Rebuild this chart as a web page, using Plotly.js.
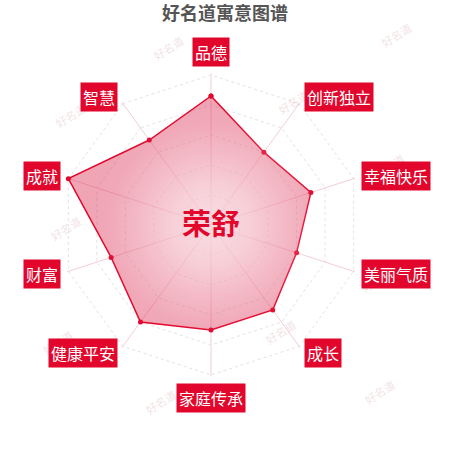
<!DOCTYPE html>
<html>
<head>
<meta charset="utf-8">
<script src="https://cdn.plot.ly/plotly-3.0.1.min.js"></script>
<style>
  html, body { margin: 0; padding: 0; background: #fff; }
  #chart { width: 450px; height: 450px; }
</style>
</head>
<body>
<div id="chart"></div>
<script>
// radar data, clockwise from the top
const categories = ["品德", "创新独立", "幸福快乐", "美丽气质", "成长", "家庭传承", "健康平安", "财富", "成就", "智慧"];
const scores = [0.86, 0.60, 0.70, 0.60, 0.70, 0.70, 0.80, 0.70, 1.00, 0.70];
const personName = "荣舒";
const chartTitle = "好名道寓意图谱";
const watermarkText = "好名道";

const W = 450, H = 450;
const RED = "#e2062c";
const RMAX = 1.01;               // a little past 1 so the outer dotted ring is drawn
const ringPx = 150;              // pixel radius of the value-1 ring
const centerPx = [211, 225];

const domR = ringPx * RMAX;
const domain = {
  x: [(centerPx[0] - domR) / W, (centerPx[0] + domR) / W],
  y: [1 - (centerPx[1] + domR) / H, 1 - (centerPx[1] - domR) / H]
};

// close the outline
const thetaLoop = categories.concat(categories[0]);
const rLoop = scores.concat(scores[0]);

const trace = {
  type: "scatterpolar",
  r: rLoop,
  theta: thetaLoop,
  mode: "lines+markers",
  fill: "toself",
  fillcolor: "rgba(222,55,92,0.45)",
  line: { color: RED, width: 1.5 },
  marker: { color: RED, size: 5 },
  hoverinfo: "skip"
};

// category labels in red boxes just outside the outer ring
const labelGap = 8;
const labelAnns = categories.map((name, i) => {
  const a = (90 - i * 360 / categories.length) * Math.PI / 180;
  const c = Math.cos(a), s = Math.sin(a);
  const px = centerPx[0] + (ringPx + labelGap) * c;
  const py = centerPx[1] - (ringPx + labelGap) * s;
  return {
    xref: "paper", yref: "paper",
    x: px / W, y: 1 - py / H,
    text: name,
    showarrow: false,
    xanchor: c > 0.1 ? "left" : (c < -0.1 ? "right" : "center"),
    yanchor: Math.abs(s) > 0.99 ? (s > 0 ? "bottom" : "top") : "middle",
    bgcolor: RED,
    borderpad: 2,
    font: { family: "Noto Sans CJK SC", size: 16, color: "#fff" }
  };
});

// faint watermarks scattered over the page (pixel positions)
const watermarkSpots = [[417, 17], [168, 30], [293, 84], [50, 97], [410, 148], [45, 228],
  [397, 280], [280, 350], [37, 360], [400, 410], [160, 420]];
const watermarkAnns = watermarkSpots.map(([x, y]) => ({
  xref: "paper", yref: "paper",
  x: x / W, y: 1 - y / H,
  text: watermarkText,
  showarrow: false,
  textangle: -32,
  font: { family: "Noto Sans CJK SC", size: 11, color: "rgba(215,170,178,0.35)" }
}));

const centerAnn = {
  xref: "paper", yref: "paper",
  x: centerPx[0] / W, y: 1 - (centerPx[1] - 3) / H,
  text: "<b>" + personName + "</b>",
  showarrow: false,
  font: { family: "Noto Sans CJK SC", size: 29, color: RED }
};

// white radial glow on top, lightens the middle of the filled area
const glow = "data:image/svg+xml;utf8," + encodeURIComponent(
  '<svg xmlns="http://www.w3.org/2000/svg" width="300" height="300">' +
  '<defs><radialGradient id="g" cx="50%" cy="50%" r="50%">' +
  '<stop offset="0" stop-color="#fff" stop-opacity="0.62"/>' +
  '<stop offset="0.25" stop-color="#fff" stop-opacity="0.48"/>' +
  '<stop offset="0.5" stop-color="#fff" stop-opacity="0.22"/>' +
  '<stop offset="0.68" stop-color="#fff" stop-opacity="0.04"/>' +
  '<stop offset="0.8" stop-color="#fff" stop-opacity="0"/>' +
  '</radialGradient></defs>' +
  '<rect width="300" height="300" fill="url(#g)"/></svg>');

const layout = {
  width: W, height: H,
  margin: { l: 0, r: 0, t: 0, b: 0 },
  paper_bgcolor: "#fff",
  showlegend: false,
  title: {
    text: "<b>" + chartTitle + "</b>",
    x: 0.5, xanchor: "center",
    yref: "container", y: 1 - 14 / H, yanchor: "middle",
    font: { family: "Noto Sans CJK SC", size: 18, color: "#555" }
  },
  polar: {
    domain: domain,
    bgcolor: "rgba(0,0,0,0)",
    gridshape: "linear",
    radialaxis: {
      range: [0, RMAX],
      tickvals: [0.2, 0.4, 0.6, 0.8, 1.0],
      showticklabels: false,
      ticks: "",
      showline: false,
      gridcolor: "#e2e2e2",
      griddash: "dot",
      gridwidth: 1
    },
    angularaxis: {
      rotation: 90,
      direction: "clockwise",
      showticklabels: false,
      ticks: "",
      showline: false,
      gridcolor: "#f4cdd5",
      gridwidth: 1
    }
  },
  images: [{
    source: glow,
    xref: "paper", yref: "paper",
    x: centerPx[0] / W, y: 1 - centerPx[1] / H,
    sizex: 2 * ringPx / W, sizey: 2 * ringPx / H,
    xanchor: "center", yanchor: "middle",
    sizing: "stretch",
    layer: "above"
  }],
  annotations: watermarkAnns.concat(labelAnns, [centerAnn])
};

Plotly.newPlot("chart", [trace], layout, { displayModeBar: false, staticPlot: true });
</script>
</body>
</html>
